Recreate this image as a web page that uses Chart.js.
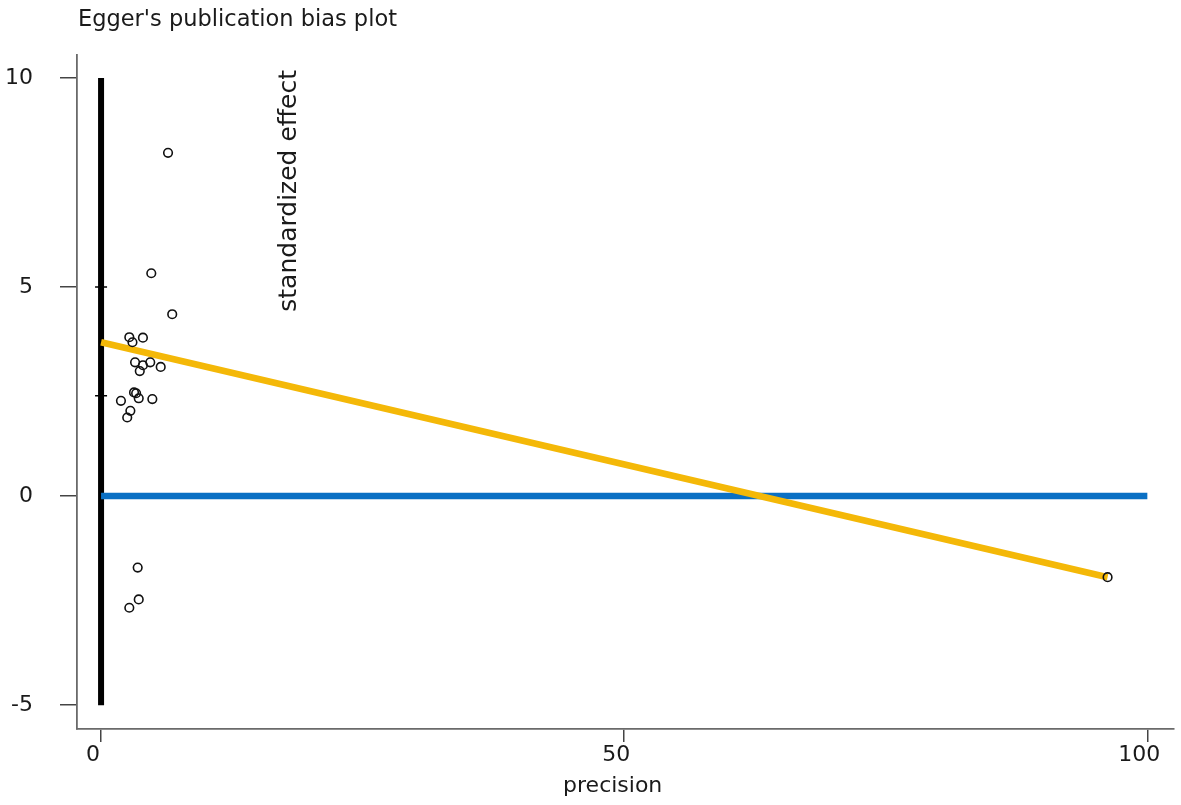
<!DOCTYPE html>
<html>
<head>
<meta charset="utf-8">
<script src="https://cdn.jsdelivr.net/npm/chart.js@4.4.1/dist/chart.umd.min.js"></script>
<style>
  html, body { margin: 0; padding: 0; background: #fff; }
</style>
</head>
<body>
<canvas id="eggerChart" width="1181" height="805"></canvas>
<script>
// studies: precision (1/SE) vs standardized effect (effect/SE)
const precision = [6.4, 4.8, 6.8, 2.7, 3.0, 4.0, 3.25, 4.0, 3.7, 4.7, 5.7, 3.15, 3.35, 3.6, 4.9, 1.9, 2.8, 2.5, 3.5, 3.6, 2.7, 96.2];
const stdEffect = [8.21, 5.33, 4.35, 3.80, 3.68, 3.79, 3.20, 3.13, 2.99, 3.20, 3.09, 2.48, 2.46, 2.34, 2.32, 2.28, 2.04, 1.88, -1.71, -2.47, -2.67, -1.94];

// Egger regression line
const regX = [0, 96.2];
const regY = [3.68, -1.94];

// zero line
const zeroX = [0, 100];
const zeroY = [0, 0];

// intercept bar at precision 0
const barX = [0, 0];
const barY = [-5, 10];
const barMarkY = [5, 2.4];

const xTicks = [0, 50, 100];
const yTicks = [-5, 0, 5, 10];

const fontFam = '"DejaVu Sans", Verdana, sans-serif';
const textCol = '#1a1a1a';

function pts(xs, ys) {
  return xs.map((x, i) => ({ x: x, y: ys[i] }));
}

const textPlugin = {
  id: 'textPlugin',
  afterDraw(chart) {
    const ctx = chart.ctx;
    const xs = chart.scales.x, ys = chart.scales.y;
    ctx.save();
    ctx.fillStyle = textCol;
    ctx.font = '22.5px ' + fontFam;
    ctx.textBaseline = 'middle';
    ctx.textAlign = 'left';
    ctx.fillText("Egger's publication bias plot", 78, 20);

    ctx.textAlign = 'center';
    ctx.font = '22px ' + fontFam;
    ctx.fillText('precision', xs.getPixelForValue(48.9), 786);

    ctx.font = '25px ' + fontFam;
    ctx.translate(xs.getPixelForValue(18), ys.getPixelForValue(7.3));
    ctx.rotate(-Math.PI / 2);
    ctx.fillText('standardized effect', 0, 0);
    ctx.restore();
  }
};

const ctx = document.getElementById('eggerChart').getContext('2d');
const chart = new Chart(ctx, {
  type: 'scatter',
  data: {
    datasets: [
      {
        label: 'studies',
        data: pts(precision, stdEffect),
        pointStyle: 'circle',
        pointRadius: 4.3,
        pointBorderWidth: 1.6,
        pointBorderColor: '#111',
        pointBackgroundColor: 'rgba(0,0,0,0)',
        showLine: false
      },
      {
        label: 'regression',
        data: pts(regX, regY),
        showLine: true,
        borderColor: '#f4b808',
        borderWidth: 6.5,
        pointRadius: 0
      },
      {
        label: 'zero',
        data: pts(zeroX, zeroY),
        showLine: true,
        borderColor: '#0a70c4',
        borderWidth: 6.5,
        pointRadius: 0
      },
      {
        label: 'bar marks',
        data: pts(barX.slice(0, 2), barMarkY),
        showLine: false,
        pointStyle: 'line',
        pointRadius: 6,
        pointBorderWidth: 1.5,
        pointBorderColor: '#000'
      },
      {
        label: 'bar',
        data: pts(barX, barY),
        showLine: true,
        borderColor: '#000',
        borderWidth: 6,
        pointRadius: 0
      }
    ]
  },
  options: {
    responsive: false,
    animation: false,
    devicePixelRatio: 1,
    layout: { padding: { top: 55, right: 7, left: 0, bottom: 0 } },
    plugins: {
      legend: { display: false },
      tooltip: { enabled: false },
      title: { display: false }
    },
    scales: {
      x: {
        type: 'linear',
        min: -2.3,
        max: 102.5,
        afterBuildTicks: (axis) => { axis.ticks = xTicks.map(v => ({ value: v })); },
        afterFit: (s) => { s.height = 76; },
        grid: { drawOnChartArea: false, drawTicks: true, tickLength: 13, tickColor: '#444', lineWidth: 1.5 },
        border: { display: true, color: '#6a6a6a', width: 1.8 },
        ticks: { font: { family: fontFam, size: 22 }, color: textCol, padding: 0, labelOffset: -8, maxRotation: 0, autoSkip: false }
      },
      y: {
        type: 'linear',
        min: -5.57,
        max: 10.55,
        afterBuildTicks: (axis) => { axis.ticks = yTicks.map(v => ({ value: v })); },
        afterFit: (s) => { s.width = 77; },
        grid: { drawOnChartArea: false, drawTicks: true, tickLength: 17, tickColor: '#444', lineWidth: 1.5 },
        border: { display: true, color: '#6a6a6a', width: 1.8 },
        ticks: { font: { family: fontFam, size: 22 }, color: textCol, padding: 27, autoSkip: false }
      }
    }
  },
  plugins: [textPlugin]
});
</script>
</body>
</html>
